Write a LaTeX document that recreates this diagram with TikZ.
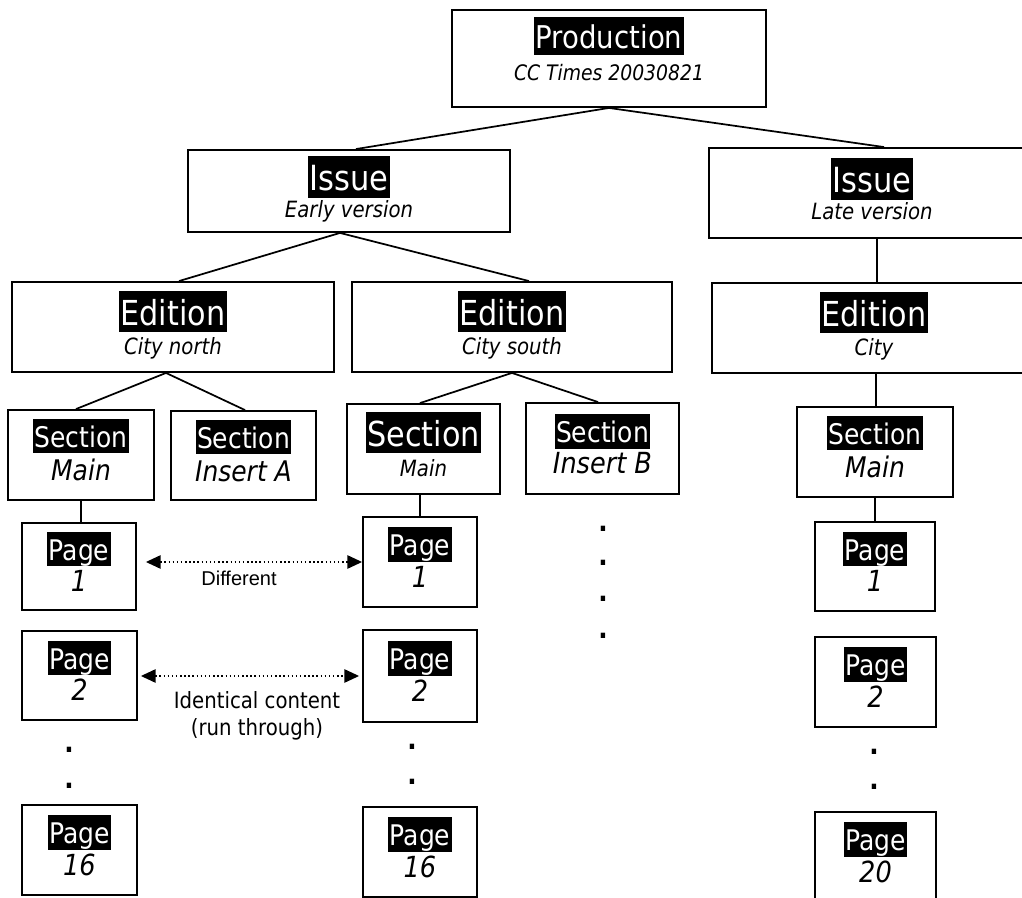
\documentclass[tikz,border=0pt]{standalone}
\usepackage{fontspec}
\setmainfont{DejaVu Sans}[FakeStretch=0.88]
\newfontfamily\arialfont{Liberation Sans}
\usepackage{xcolor}
\usetikzlibrary{arrows.meta}

% white title on a black band, and the italic line under it
\newcommand{\boxhead}[2]{{\fontsize{#1}{#1}\selectfont\setlength{\fboxsep}{0pt}%
  \colorbox{black}{\rule[-0.21em]{0pt}{1.21em}\kern0.05em\textcolor{white}{#2}\kern0.05em}}}
\newcommand{\boxsub}[2]{{\fontsize{#1}{#1}\itshape\selectfont #2}\strut}

\begin{document}
\begin{tikzpicture}[x=0.75pt, y=-0.75pt,
    box/.style={draw, line width=1.4pt, align=center, inner sep=0pt},
    wh/.style 2 args={minimum width=#1*0.75pt, minimum height=#2*0.75pt},
    link/.style={line width=1.3pt},
    pair/.style={dotted, line width=1.1pt, {Triangle[length=11pt,width=10pt]}-{Triangle[length=11pt,width=10pt]}},
    gap/.style={font=\fontsize{21}{21}\bfseries\selectfont, inner sep=0pt}]

  \useasboundingbox (0,0) rectangle (1022,898);
  \clip (0,0) rectangle (1022,898);

  % Production
  \node[box, wh={314}{97}, font=\fontsize{16}{24}\selectfont] (prod) at (609,58.5)
    {\boxhead{23.5}{Production}\\\boxsub{16}{CC Times 20030821}\rule[-15pt]{0pt}{1pt}};

  % Issues
  \node[box, wh={322}{82}, font=\fontsize{16.8}{20}\selectfont] (issE) at (349,191)
    {\boxhead{26}{Issue}\\\boxsub{16.8}{Early version}};
  \node[box, wh={326}{90}, font=\fontsize{16.8}{20}\selectfont] (issL) at (872,193)
    {\boxhead{26}{Issue}\\\boxsub{16.8}{Late version}};

  % Editions
  \node[box, wh={322}{90}, font=\fontsize{16.8}{22}\selectfont] (edN) at (173,327)
    {\boxhead{25.8}{Edition}\\\boxsub{16.8}{City north}};
  \node[box, wh={320}{90}, font=\fontsize{16.8}{22}\selectfont] (edS) at (512,327)
    {\boxhead{25.8}{Edition}\\\boxsub{16.8}{City south}};
  \node[box, wh={324}{90}, font=\fontsize{16.8}{22}\selectfont] (edC) at (874,328)
    {\boxhead{25.8}{Edition}\\\boxsub{16.8}{City}};

  % Sections
  \node[box, wh={146}{90}, font=\fontsize{21.3}{25}\selectfont] (secNM) at (81,455)
    {\boxhead{21.3}{Section}\\\boxsub{21.3}{Main}};
  \node[box, wh={145}{89}, font=\fontsize{21.3}{25}\selectfont] (secNA) at (243.5,455.5)
    {\boxhead{21.3}{Section}\\\boxsub{21.3}{Insert A}};
  \node[box, wh={153}{90}, font=\fontsize{16.8}{23}\selectfont] (secSM) at (423.5,449)
    {\boxhead{25.8}{Section}\\\boxsub{16.8}{Main}};
  \node[box, wh={153}{91}, font=\fontsize{21.3}{23}\selectfont] (secSB) at (602.5,448.5)
    {\boxhead{21.3}{Section}\\\boxsub{21.8}{Insert B}};
  \node[box, wh={156}{90}, font=\fontsize{21.3}{25}\selectfont] (secC) at (875,452)
    {\boxhead{21.3}{Section}\\\boxsub{21.3}{Main}};

  % Pages
  \node[box, wh={114}{87}, font=\fontsize{21.3}{23.5}\selectfont] (pgN1) at (79,566.5)
    {\boxhead{21.3}{Page}\\\boxsub{21.8}{1}};
  \node[box, wh={115}{89}, font=\fontsize{21.3}{23.5}\selectfont] (pgN2) at (79.5,675.5)
    {\boxhead{21.3}{Page}\\\boxsub{21.8}{2}};
  \node[box, wh={115}{90}, font=\fontsize{21.3}{23.5}\selectfont] (pgN16) at (79.5,850)
    {\boxhead{21.3}{Page}\\\boxsub{21.8}{16}};
  \node[box, wh={114}{90}, font=\fontsize{21.3}{23.5}\selectfont] (pgS1) at (420,562)
    {\boxhead{21.3}{Page}\\\boxsub{21.8}{1}};
  \node[box, wh={114}{92}, font=\fontsize{21.3}{23.5}\selectfont] (pgS2) at (420,676)
    {\boxhead{21.3}{Page}\\\boxsub{21.8}{2}};
  \node[box, wh={114}{90}, font=\fontsize{21.3}{23.5}\selectfont] (pgS16) at (420,852)
    {\boxhead{21.3}{Page}\\\boxsub{21.8}{16}};
  \node[box, wh={120}{89}, font=\fontsize{21.3}{23.5}\selectfont] (pgC1) at (875,566.5)
    {\boxhead{21.3}{Page}\\\boxsub{21.8}{1}};
  \node[box, wh={121}{90}, font=\fontsize{21.3}{23.5}\selectfont] (pgC2) at (875.5,682)
    {\boxhead{21.3}{Page}\\\boxsub{21.8}{2}};
  \node[box, wh={121}{90}, font=\fontsize{21.3}{23.5}\selectfont] (pgC20) at (875.5,857)
    {\boxhead{21.3}{Page}\\\boxsub{21.8}{20}};

  % Dots for the pages left out
  \foreach \y [count=\i] in {750,786} \node[gap] (dN\i) at (69,\y) {.};
  \foreach \y [count=\i] in {747,782} \node[gap] (dS\i) at (412,\y) {.};
  \foreach \y [count=\i] in {752,787} \node[gap] (dC\i) at (874,\y) {.};
  \foreach \y [count=\i] in {529,563,599,636} \node[gap] (dB\i) at (603,\y) {.};

  % Tree lines
  \draw[link] (prod.south) -- ([shift={(7,0)}]issE.north);
  \draw[link] (prod.south) -- ([shift={(12,0)}]issL.north);
  \draw[link] ([shift={(-9,0)}]issE.south) -- ([shift={(6,0)}]edN.north);
  \draw[link] ([shift={(-9,0)}]issE.south) -- ([shift={(17,0)}]edS.north);
  \draw[link] ([shift={(5,0)}]issL.south) -- ([shift={(3,0)}]edC.north);
  \draw[link] ([shift={(-7,0)}]edN.south) -- ([shift={(-5,0)}]secNM.north);
  \draw[link] ([shift={(-7,0)}]edN.south) -- ([shift={(1.5,0)}]secNA.north);
  \draw[link] (edS.south) -- ([shift={(-3.5,0)}]secSM.north);
  \draw[link] (edS.south) -- ([shift={(-4.5,0)}]secSB.north);
  \draw[link] ([shift={(2,0)}]edC.south) -- ([shift={(1,0)}]secC.north);
  \draw[link] (secNM.south) -- (secNM.south |- pgN1.north);
  \draw[link] (pgS1.north |- secSM.south) -- (pgS1.north);
  \draw[link] (secC.south) -- (secC.south |- pgC1.north);

  % Comparisons between the editions
  \draw[pair, shorten <=6.75pt] (pgN1.east |- pgS1.west) -- (pgS1.west);
  \draw[pair, shorten <=2.25pt, shorten >=2.25pt] (pgN2.east |- pgS2.west) -- (pgS2.west);
  \node[font=\arialfont\fontsize{15}{17}\selectfont] (diff) at (239,578) {Different};
  \node[align=center, font=\fontsize{16.8}{20}\selectfont] (same) at (257,716)
    {Identical content\\(run through)};

\end{tikzpicture}
\end{document}
